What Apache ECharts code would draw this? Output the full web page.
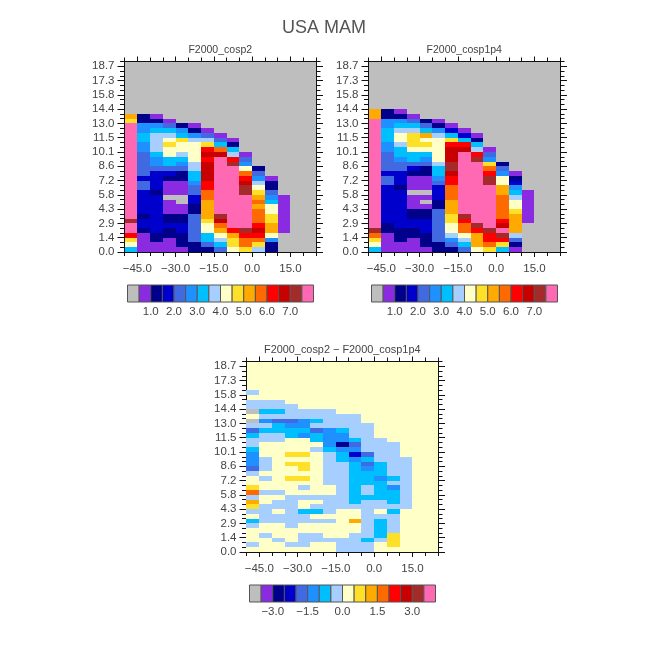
<!DOCTYPE html>
<html><head><meta charset="utf-8">
<style>html,body{margin:0;padding:0;background:#fff}#c{width:648px;height:648px}</style>
<script src="https://cdn.jsdelivr.net/npm/echarts@6/dist/echarts.min.js"></script>
</head><body><div id="c"></div>
<script>
const palette=['#BEBEBE','#8A2BE2','#00008B','#0000CD','#4169E1','#1E90FF','#00BFFF','#A6CEFF','#FFFFC8','#FFE028','#FFAA00','#FF6A00','#FF0000','#C80000','#A52A2A','#FF69B4'];
const levelStart1=0, levelStart3=-4, levelStep=0.5;
const xMajor=[-45,-30,-15,0,15];
const xMinor=[-50,-45,-40,-35,-30,-25,-20,-15,-10,-5,0,5,10,15,20,25];
const yMajor=[0,1.44,2.88,4.32,5.76,7.2,8.64,10.08,11.52,12.96,14.4,15.84,17.28,18.72];
const yMinor=[0,0.48,0.96,1.44,1.92,2.4,2.88,3.36,3.84,4.32,4.8,5.28,5.76,6.24,6.72,7.2,7.68,8.16,8.64,9.12,9.6,10.08,10.56,11.04,11.52,12,12.48,12.96,13.44,13.92,14.4,14.88,15.36,15.84,16.32,16.8,17.28,17.76,18.24,18.72,19.2];
const lonStart=-50, lonStep=5, altStep=0.48;
const cbTicks1=[1,2,3,4,5,6,7];
const cbTicks3=[-3,-1.5,0,1.5,3];
const titleMain='USA MAM';
const titles=['F2000_cosp2','F2000_cosp1p4','F2000_cosp2 \u2212 F2000_cosp1p4'];
// rows from the lowest altitude bin upward; each row from the westernmost bin eastward
const cosp2=[
[3.25,.75,.75,.75,.75,1.25,1.25,2.25,4.25,4.75,3.75,1.25],
[4.25,.75,.75,.75,1.25,1.25,2.25,3.25,4.75,5.75,4.75,1.25],
[4.75,.75,1.25,.75,1.25,2.25,3.25,3.75,4.75,5.75,5.75,2.75],
[6.25,.75,1.25,1.25,1.25,2.25,3.25,4.25,5.25,6.25,6.25,4.25],
[7.75,1.25,1.75,1.25,1.75,2.25,4.25,5.25,6.25,7.25,6.75,5.25,.75],
[7.75,1.75,1.75,1.75,1.75,2.25,4.25,5.75,7.75,7.75,6.25,5.25,.75],
[7.25,1.75,1.75,1.25,1.25,2.25,4.75,6.75,7.75,7.75,5.75,4.75,.75],
[7.75,1.25,1.75,1.25,1.25,2.25,5.25,7.25,7.75,7.75,5.75,4.75,.75],
[7.75,1.75,1.75,.75,.75,1.25,5.25,7.75,7.75,7.75,5.75,4.25,.75],
[7.75,1.75,1.75,.75,.75,1.25,5.25,7.75,7.75,7.75,5.25,4.25,.75],
[7.75,1.75,1.75,.75,.25,1.75,5.25,7.75,7.75,7.75,5.75,3.25,.75],
[7.75,1.75,1.75,.25,.25,1.75,5.75,7.75,7.75,7.75,5.25,2.75,.75],
[7.75,1.75,1.25,.75,.75,2.25,5.75,7.75,7.75,7.25,4.75,2.25],
[7.75,2.25,1.75,.75,.75,2.25,6.25,7.75,7.75,7.25,4.25,1.25],
[7.75,2.25,1.75,.75,.75,2.75,6.25,7.75,7.75,6.75,3.75,1.25],
[7.75,1.75,1.75,1.25,1.25,3.25,6.75,7.75,7.75,6.25,2.75,.75],
[7.75,2.25,1.75,1.75,1.25,3.25,6.75,7.75,7.75,5.75,2.25],
[7.75,2.25,2.25,2.25,2.25,3.75,6.75,7.75,7.75,4.25,1.25],
[7.75,2.25,2.75,3.25,2.75,3.75,6.75,7.75,7.25,2.75],
[7.75,2.25,2.75,3.25,3.25,4.25,6.25,7.75,6.25,2.25],
[7.75,2.25,3.25,4.25,3.75,4.25,6.75,6.75,3.75,.75],
[7.75,2.75,3.75,4.25,4.25,4.25,6.25,5.75,3.25],
[7.75,2.75,3.75,4.75,4.25,4.25,4.75,3.25,1.25],
[7.75,3.25,3.75,4.25,4.75,3.75,3.75,2.25,.75],
[7.75,3.25,3.75,3.75,3.25,2.75,2.25,.75],
[7.75,2.75,3.25,3.25,2.75,1.25,.75],
[7.75,2.75,2.75,2.25,1.25,.75],
[4.75,1.25,1.25,.75],
[5.25,1.25,.75]
];
const cosp1p4=[
[3.25,.75,.75,.75,.75,1.25,1.25,2.25,4.25,4.75,3.25,.75],
[4.25,.75,.75,.75,1.25,1.25,2.25,3.25,5.25,5.75,4.75,1.25],
[4.75,.75,1.25,.75,1.25,2.25,2.75,3.75,5.25,6.25,6.25,2.25],
[5.75,.75,1.25,1.25,1.25,2.25,3.75,4.25,5.25,6.25,7.25,3.75],
[7.25,1.25,1.25,1.25,1.75,2.25,4.25,5.75,6.25,7.25,7.75,5.25],
[7.75,1.25,1.75,1.75,1.75,2.25,4.25,5.75,7.25,7.75,6.75,5.25],
[7.75,1.75,1.75,1.75,1.75,2.25,4.75,6.25,7.75,7.75,6.25,5.25,.75],
[7.75,1.75,1.75,1.25,1.25,2.25,4.75,7.25,7.75,7.75,5.75,5.25,.75],
[7.75,1.75,1.75,1.25,1.25,2.25,5.25,7.75,7.75,7.75,5.75,4.75,.75],
[7.75,1.75,1.75,.75,.75,1.25,5.25,7.75,7.75,7.75,5.75,4.25,.75],
[7.75,1.75,1.75,.75,.25,1.25,5.25,7.75,7.75,7.75,5.75,4.25,.75],
[7.75,1.75,1.75,.75,.75,1.75,5.75,7.75,7.75,7.75,5.75,3.75,.75],
[7.75,1.75,1.75,.25,.25,1.75,5.75,7.75,7.75,7.75,5.25,3.25,.75],
[7.75,1.75,1.25,.75,.75,1.75,5.75,7.75,7.75,7.75,5.25,2.75],
[7.75,2.25,1.75,.75,.75,2.25,6.25,7.75,7.75,7.25,4.25,1.75],
[7.75,2.25,1.75,.75,.75,2.75,6.25,7.75,7.75,7.25,4.25,1.25],
[7.75,1.75,1.75,1.25,1.25,3.25,6.75,7.75,7.75,6.25,2.75,.75],
[7.75,2.25,2.25,1.75,1.25,3.25,7.25,7.75,7.75,5.75,2.25],
[7.75,2.25,2.25,2.25,2.25,3.75,7.25,7.75,7.75,4.75,1.25],
[7.75,2.25,2.75,3.25,2.75,4.25,6.75,7.75,7.25,2.75],
[7.75,2.25,3.25,3.25,3.25,4.25,6.75,7.75,6.25,2.25],
[7.75,2.75,3.25,4.25,4.25,4.25,6.75,6.75,3.75,.75],
[7.75,2.75,3.75,4.75,4.75,4.25,6.25,6.25,3.25],
[7.75,3.25,4.25,4.75,4.25,4.25,4.75,3.25,1.25],
[7.75,3.25,4.25,4.75,5.25,3.75,3.25,1.75,.75],
[7.75,3.25,3.75,3.75,3.25,2.75,1.75,.75],
[7.75,2.75,3.25,3.25,2.25,1.25,.75],
[7.75,2.75,2.75,2.25,1.25,.75],
[5.25,1.25,1.25,.75],
[5.25,1.25,.75]
];
const diff=[
[.25,.25,.25,.25,.25,.25,.25,-.25,-.25,-.25],
[-.25,.25,.25,-.25,-.25,.25,.25,-.25,-.25,-.25,.25,.75],
[.25,.25,-.25,.25,-.25,-.25,-.25,-.25,-.25,-.75,-.25,.75],
[.25,-.25,.25,.25,-.25,-.25,.25,.25,-.25,-.25,-.75,.75],
[.25,.25,.25,.25,.25,.25,.25,.25,.25,-.25,-.75,-.25],
[-.25,.25,.25,-.25,.25,.25,.25,.25,.25,-.25,-.75,-.25],
[-.75,-.25,-.25,-.25,-.25,-.25,-.25,.25,1.25,-.25,-.75,-.25],
[.25,-.25,-.25,-.25,-.25,.25,.25,.25,.25,-.25,-.25,-.25],
[-.25,-.25,.25,-.25,-.75,-.75,-.25,.25,.25,-.25,.25,-.75],
[.75,-.25,-.25,-.25,.25,-.25,-.25,-.25,-.25,-.25,-.25,-.25,-.25],
[1.25,.25,-.25,-.25,.25,.25,-.25,-.25,-.75,-.25,-.25,-.75,-.25],
[-.25,.25,.25,-.25,-.25,-.25,-.25,-.25,-.75,-.75,-.75,-.75,-.25],
[1.75,-.25,-.25,.25,.25,.25,.25,-.25,-.75,-.25,-.75,-.75,-.25],
[.75,.25,.25,.25,-.25,.25,.25,-.25,-.75,-.25,-.75,-1.25,-.25],
[.25,.25,.25,.25,.25,.25,-.25,-.25,-.75,-.75,-.75,-.25,-.25],
[.25,-.25,.25,.75,.75,.25,-.25,-.25,-.75,-.75,-1.25,-.75,-.25],
[-.25,.25,.25,.25,.25,.25,-.25,-.25,-.75,-.75,-.75,-.25,-.25],
[-1.75,-.25,.25,.25,.75,.25,-.25,-.25,-.75,-1.25,-.75,-.25,-.25],
[-1.25,-.25,.25,.75,.75,.25,-.25,-.25,-.75,-1.75,-.75,-.25,-.25],
[-1.25,-.25,.25,.25,.25,.25,-.25,-.75,-1.25,-.75,-.25,-.25,-.25],
[-1.25,.25,.25,.75,.75,.25,-.25,-.75,-2.25,-1.75,-.25,-.25],
[-.75,.25,.25,.25,.25,-.25,-.75,-1.25,-1.25,-.25,-.25,-.25],
[-.25,.25,.25,.25,.25,.25,-1.25,-2.75,-1.75,-.25,-.25,-.25],
[-.25,-.25,-.25,.25,.25,-.75,-1.25,-1.25,-.75,-.25,-.25],
[-.75,-.25,-.25,-.75,-1.25,-.75,-1.25,-1.25,-.25,-.25],
[-1.75,-.75,-.75,-.75,-.75,-1.75,-1.25,-.75,-.25,-.25],
[-.25,-.25,-.75,-1.25,-1.25,-.25,-.25,-.25,-.25,-.25],
[-3.75,-1.25,-1.75,-1.75,-1.25,-.75,-.25,-.25,-.25],
[.25,-.25,-.25,-.25,-.25,-.25,-.25,-.25,-.25],
[-3.75,-.75,-.75,-.25,-.25,-.25,-.25],
[-.25,-.25,-.25,-.25],
[-.25,-.25,-.25],
[],
[-.25]
];

const panels=[
 {rows:cosp2,start:levelStart1,left:124.5,top:61.5,bg:palette[0],title:titles[0]},
 {rows:cosp1p4,start:levelStart1,left:368.5,top:61.5,bg:palette[0],title:titles[1]},
 {rows:diff,start:levelStart3,left:246.5,top:361.5,bg:palette[8],title:titles[2]}
];
const W=191.5,H=190.5;
const font='"Liberation Sans"';
const txt='#444';
const fmt=v=>v.toFixed(1).replace('-','\u2212');
const grid=[],xAxis=[],yAxis=[],series=[];
function frameAxes(g,values,len,show,isX){
  [0,1].forEach(k=>{
    const base={gridIndex:g,type:'value',
      axisLine:{show:show,onZero:false,lineStyle:{color:'#111',width:1}},
      axisTick:{show:true,inside:false,length:len,customValues:values,lineStyle:{color:'#111',width:1}},
      splitLine:{show:false},minorTick:{show:false}};
    if(isX){
      xAxis.push(Object.assign({},base,{position:k?'top':'bottom',min:lonStart,max:25,
        axisLabel:{show:show&&k===0,customValues:xMajor,formatter:fmt,margin:11,fontFamily:font,fontSize:11.5,color:txt,showMinLabel:true,showMaxLabel:true,hideOverlap:false}}));
    }else{
      yAxis.push(Object.assign({},base,{position:k?'right':'left',min:0,max:19.2,
        axisLabel:{show:show&&k===0,customValues:yMajor,formatter:fmt,margin:10,fontFamily:font,fontSize:11.5,color:txt,showMinLabel:true,showMaxLabel:true,hideOverlap:false}}));
    }
  });
}
function cell(params,api){
  const lon=api.value(0),alt=api.value(1),v=api.value(2);
  const p0=api.coord([lon,alt]),p1=api.coord([lon+lonStep,alt+altStep]);
  const idx=Math.max(0,Math.min(15,Math.floor((v-api.value(3))/levelStep)));
  const x0=Math.round(p0[0]),x1=Math.round(p1[0]),y0=Math.round(p0[1]),y1=Math.round(p1[1]);
  return {type:'rect',shape:{x:x0,y:y1,width:x1-x0,height:y0-y1},style:{fill:palette[idx]}};
}
const texts=[{type:'text',x:324,y:28,z:10,style:{text:titleMain,x:0,y:0,textAlign:'center',textVerticalAlign:'middle',font:'18px '+font,fill:'#555'}}];
panels.forEach((p,i)=>{
  const g=grid.length;
  grid.push({left:p.left,top:p.top,width:W,height:H,show:true,backgroundColor:p.bg,borderWidth:0});
  grid.push({left:p.left,top:p.top,width:W,height:H,show:false});
  const ax=xAxis.length, ay=yAxis.length;
  frameAxes(g,xMajor,5,true,true);
  frameAxes(g,yMajor,7,true,false);
  frameAxes(g+1,xMinor,4,false,true);
  frameAxes(g+1,yMinor,4.5,false,false);
  const data=[];
  p.rows.forEach((row,r)=>row.forEach((v,c)=>data.push([lonStart+c*lonStep,r*altStep,v,p.start])));
  series.push({type:'custom',xAxisIndex:ax,yAxisIndex:ay,data,renderItem:cell,silent:true,animation:false,clip:true,encode:{x:0,y:1}});
  texts.push({type:'text',x:p.left+W/2,y:p.top-11.5,z:10,style:{text:p.title,textAlign:'center',textVerticalAlign:'middle',font:(i===2?'10.9px ':'10.5px ')+font,fill:txt}});
});
const bars=[
 {left:127.5,top:285,start:levelStart1,ticks:cbTicks1},
 {left:371.5,top:285,start:levelStart1,ticks:cbTicks1},
 {left:249.5,top:585,start:levelStart3,ticks:cbTicks3}
];
bars.forEach(b=>{
  const g=grid.length, ax=xAxis.length, ay=yAxis.length;
  grid.push({left:b.left,top:b.top,width:186,height:17,show:false});
  xAxis.push({gridIndex:g,type:'value',position:'bottom',min:b.start,max:b.start+palette.length*levelStep,
    axisLine:{show:false},axisTick:{show:false},splitLine:{show:false},
    axisLabel:{customValues:b.ticks,formatter:fmt,margin:4,fontFamily:font,fontSize:11.5,color:txt}});
  yAxis.push({gridIndex:g,type:'value',min:0,max:1,show:false});
  const data=palette.map((c,i)=>[b.start+i*levelStep,i]);
  series.push({type:'custom',xAxisIndex:ax,yAxisIndex:ay,data,silent:true,animation:false,encode:{x:0},
    renderItem(params,api){
      const a=api.coord([api.value(0),1]),z=api.coord([api.value(0)+levelStep,0]);
      return {type:'rect',shape:{x:a[0],y:a[1],width:z[0]-a[0],height:z[1]-a[1]},
        style:{fill:palette[api.value(1)],stroke:'#555',lineWidth:1}};
    }});
});
const chart=echarts.init(document.getElementById('c'),null,{renderer:'canvas'});
chart.setOption({animation:false,backgroundColor:'#fff',graphic:{elements:texts},grid,xAxis,yAxis,series});
</script></body></html>
